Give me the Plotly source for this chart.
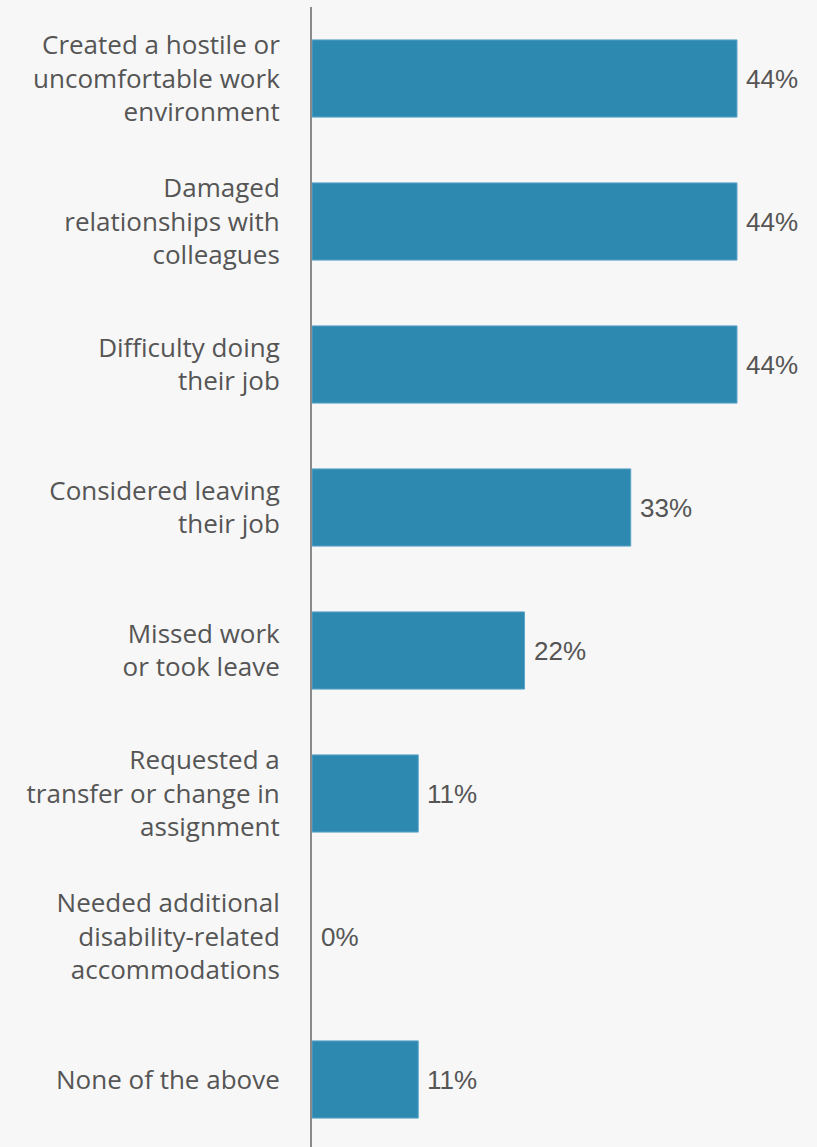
import plotly.graph_objects as go

categories = [
    "Created a hostile or<br>uncomfortable work<br>environment",
    "Damaged<br>relationships with<br>colleagues",
    "Difficulty doing<br>their job",
    "Considered leaving<br>their job",
    "Missed work<br>or took leave",
    "Requested a<br>transfer or change in<br>assignment",
    "Needed additional<br>disability-related<br>accommodations",
    "None of the above",
]
values = [44, 44, 44, 33, 22, 11, 0, 11]
value_labels = [f"{v}%" for v in values]

BG = "#f7f7f7"
BAR = "#2e89b1"

ys = list(range(len(categories)))

fig = go.Figure()
fig.add_trace(go.Bar(
    y=ys,
    x=values,
    orientation="h",
    width=0.54,
    marker=dict(color=BAR,
                line=dict(color="#5ea6c9", width=[1 if v > 0 else 0 for v in values])),
    hoverinfo="skip",
))

for yv, v, lab in zip(ys, values, value_labels):
    fig.add_annotation(
        x=v, y=yv, text=lab, showarrow=False,
        xanchor="left", yanchor="middle", xshift=7,
        font=dict(family="Liberation Sans, Arial, sans-serif", size=26, color="#555555"),
    )

fig.update_layout(
    width=817, height=1147,
    margin=dict(l=312, r=0, t=7, b=0),
    paper_bgcolor=BG, plot_bgcolor=BG,
    showlegend=False,
    xaxis=dict(range=[0, 505 / (425 / 44)], visible=False, fixedrange=True),
    yaxis=dict(
        range=[-0.5 + 1140 / 143, -0.5],
        tickmode="array",
        tickvals=ys,
        ticktext=categories,
        tickfont=dict(family="Open Sans, sans-serif", size=26, color="#555555"),
        showline=True, linecolor="#8a8a8a", linewidth=2,
        showgrid=False, zeroline=False,
        ticks="", ticklabelstandoff=25,
    ),
)

fig.write_html("out.html")
